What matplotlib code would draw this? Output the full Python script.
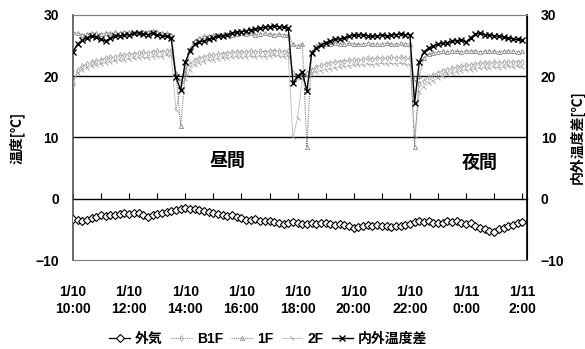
import matplotlib
matplotlib.use("Agg")
import matplotlib.pyplot as plt
from matplotlib.ticker import MultipleLocator

plt.rcParams['font.family'] = ['Liberation Sans', 'Noto Sans CJK JP', 'DejaVu Sans']
plt.rcParams['font.weight'] = 'bold'

# time in hours after 1/10 10:00, 10-minute steps
hours = [i / 6 for i in range(97)]

outdoor = [-3.3, -3.5, -3.6, -3.4, -3.1, -2.9, -2.7, -2.8, -2.6, -2.7, -2.5, -2.4,
           -2.5, -2.3, -2.4, -2.6, -2.9, -2.7, -2.5, -2.4, -2.2, -2.0, -1.8, -1.7,
           -1.5, -1.6, -1.7, -1.8, -2.0, -2.1, -2.3, -2.5, -2.7, -2.8, -2.7, -3.0,
           -3.2, -3.4, -3.5, -3.3, -3.6, -3.7, -3.7, -3.8, -3.9, -4.1, -3.9, -3.8,
           -4.0, -4.2, -4.1, -4.0, -4.1, -4.0, -3.9, -4.1, -4.3, -4.2, -4.3, -4.5,
           -4.7, -4.6, -4.4, -4.3, -4.4, -4.3, -4.4, -4.5, -4.6, -4.4, -4.5, -4.3,
           -4.1, -3.8, -3.6, -3.8, -3.7, -3.9, -4.0, -3.9, -3.7, -3.8, -3.6, -3.9,
           -4.2, -4.0, -4.4, -4.7, -4.9, -5.2, -5.5, -5.0, -4.7, -4.5, -4.3, -4.0,
           -3.8]

b1f = [18.8, 21.0, 21.6, 22.0, 22.3, 22.5, 22.7, 22.9, 23.1, 23.2, 23.4, 23.5,
       23.6, 23.7, 23.8, 23.9, 23.8, 24.0, 24.1, 24.0, 24.2, 24.1, 20.2, 19.3,
       21.0, 22.0, 22.6, 23.0, 23.2, 23.4, 23.5, 23.6, 23.7, 23.8, 23.9, 24.0,
       23.9, 24.0, 24.1, 24.0, 24.1, 24.0, 24.1, 24.2, 24.1, 24.0, 24.1, 20.5,
       19.8, 20.2, 20.6, 21.0, 21.5, 21.8, 22.0, 22.2, 22.3, 22.4, 22.5, 22.6,
       22.7, 22.6, 22.8, 22.9, 22.8, 23.0, 22.9, 23.0, 23.1, 23.0, 23.1, 23.0,
       22.9, 19.5, 18.8, 19.3, 19.8, 20.2, 20.6, 20.9, 21.1, 21.3, 21.5, 21.6,
       21.8, 21.9, 22.0, 22.1, 22.2, 22.1, 22.3, 22.2, 22.3, 22.4, 22.3, 22.4,
       22.3]

f1 = [27.2, 27.0, 26.8, 26.9, 27.1, 27.0, 26.9, 27.1, 27.0, 27.2, 27.1, 27.3,
      27.2, 27.0, 27.1, 27.3, 27.2, 27.4, 27.2, 27.1, 27.0, 26.8, 20.5, 11.8,
      20.5, 24.5, 25.8, 26.3, 26.5, 26.6, 26.7, 26.8, 26.7, 26.9, 26.8, 26.9,
      27.0, 26.9, 27.0, 26.8, 26.9, 27.0, 26.9, 26.8, 26.9, 26.8, 26.7, 25.2,
      25.0, 25.3, 8.5, 24.0, 25.0, 25.2, 25.3, 25.2, 25.4, 25.3, 25.2, 25.4,
      25.3, 25.2, 25.3, 25.4, 25.3, 25.2, 25.3, 25.4, 25.3, 25.2, 25.4, 25.3,
      25.3, 8.5, 20.0, 23.0, 23.6, 23.8, 24.0, 24.1, 24.0, 24.2, 24.1, 24.0,
      24.2, 24.1, 24.2, 24.0, 24.1, 24.2, 24.1, 24.0, 24.1, 24.2, 24.1, 24.0,
      24.1]

f2 = [19.0, 20.5, 21.0, 21.3, 21.6, 21.8, 22.0, 22.2, 22.3, 22.5, 22.6, 22.7,
      22.8, 22.9, 23.0, 23.1, 23.0, 23.2, 23.3, 23.2, 23.4, 23.3, 14.5, 18.0,
      19.5, 21.0, 21.8, 22.2, 22.4, 22.6, 22.7, 22.8, 22.9, 23.0, 23.1, 23.2,
      23.1, 23.2, 23.3, 23.2, 23.3, 23.2, 23.3, 23.4, 23.3, 23.2, 23.3, 10.0,
      13.2, 19.5, 20.0, 20.4, 20.7, 20.9, 21.1, 21.2, 21.4, 21.5, 21.6, 21.7,
      21.8, 21.9, 21.8, 22.0, 21.9, 22.0, 22.1, 22.0, 22.1, 22.0, 22.1, 22.0,
      21.9, 10.2, 17.5, 18.3, 18.9, 19.3, 19.7, 20.0, 20.3, 20.5, 20.7, 20.9,
      21.0, 21.1, 21.2, 21.3, 21.4, 21.3, 21.5, 21.4, 21.5, 21.6, 21.5, 21.6,
      21.5]

diff = [24.0, 25.3, 25.9, 26.3, 26.5, 26.4, 26.0, 25.8, 26.2, 26.5, 26.6, 26.8,
        26.7, 27.0, 27.1, 26.9, 26.8, 27.0, 26.8, 26.6, 26.5, 26.2, 19.8, 17.8,
        22.3, 24.2, 25.2, 25.6, 25.8, 26.0, 26.3, 26.5, 26.6, 26.8, 27.0, 27.2,
        27.3, 27.4, 27.6, 27.7, 27.8, 28.0, 28.1, 28.2, 28.1, 28.0, 27.9, 18.9,
        20.0, 20.7, 17.6, 23.8, 24.6, 25.1, 25.5, 25.8, 26.0, 26.1, 26.3, 26.5,
        26.7, 26.8, 26.7, 26.6, 26.5, 26.6, 26.7, 26.6, 26.7, 26.8, 26.9, 26.8,
        26.8, 15.6, 22.3, 24.0, 24.6, 25.0, 25.2, 25.4, 25.5, 25.7, 25.8, 25.9,
        25.6, 26.3, 26.9, 27.0, 26.8, 26.7, 26.6, 26.5, 26.4, 26.2, 26.1, 26.0,
        25.9]

tick_hours = [0, 2, 4, 6, 8, 10, 12, 14, 16]
tick_labels = ["1/10\n10:00", "1/10\n12:00", "1/10\n14:00", "1/10\n16:00",
               "1/10\n18:00", "1/10\n20:00", "1/10\n22:00", "1/11\n0:00",
               "1/11\n2:00"]
y_ticks = [-10, 0, 10, 20, 30]

fig = plt.figure(figsize=(5.85, 3.49), dpi=100)
ax = fig.add_axes([73 / 585, 1 - 260 / 349, (527 - 73) / 585, (260 - 15) / 349])
ax.set_xlim(0, 16.17)
ax.set_ylim(-10, 30)

for v in (10, 20):
    ax.axhline(v, color='black', lw=1.0, zorder=1)

l_out, = ax.plot(hours, outdoor, color='black', lw=0.9, marker='D', ms=3.6,
                 mfc='white', mec='black', mew=0.8, zorder=5, label='外気')
l_b1f, = ax.plot(hours, b1f, color='#8f8f8f', lw=0.8, ls=(0, (1, 1)), marker='d',
                 ms=3.0, mfc='none', mec='#a6a6a6', mew=0.6, zorder=3, label='B1F')
l_1f, = ax.plot(hours, f1, color='#7a7a7a', lw=0.8, ls=(0, (1, 1)), marker='^',
                ms=3.0, mfc='none', mec='#8c8c8c', mew=0.6, zorder=3, label='1F')
l_2f, = ax.plot(hours, f2, color='#bdbdbd', lw=0.6, ls='-', marker=(2, 0, 45),
                ms=4.0, mec='#a0a0a0', mew=0.7, zorder=2, label='2F')

ax2 = ax.twinx()
ax2.set_ylim(-10, 30)
l_diff, = ax2.plot(hours, diff, color='black', lw=1.0, marker='x', ms=4.2,
                   mew=1.0, zorder=6, label='内外温度差')

for a in (ax, ax2):
    for s in ('top', 'bottom'):
        a.spines[s].set_color('#808080')
        a.spines[s].set_linestyle((0, (2, 1)))
        a.spines[s].set_linewidth(0.8)
ax.spines['left'].set_color('#505050')
ax.spines['left'].set_linewidth(1.2)
ax2.spines['right'].set_color('black')
ax2.spines['right'].set_linewidth(1.2)
ax2.spines['left'].set_visible(False)

ylabels_txt = [str(v) if v >= 0 else '−10' for v in y_ticks]
ax.set_yticks(y_ticks)
ax.set_yticklabels(ylabels_txt, fontsize=10, fontweight='bold')
ax2.set_yticks(y_ticks)
ax2.set_yticklabels(ylabels_txt, fontsize=10, fontweight='bold')
ax.tick_params(axis='y', length=0, pad=10)
ax2.tick_params(axis='y', length=0, pad=10)

ax.set_xticks(tick_hours)
ax.set_xticklabels(tick_labels, fontsize=10, fontweight='bold', linespacing=1.3)
ax.tick_params(axis='x', length=0, pad=18)

sec = ax.secondary_xaxis(0.25)
sec.xaxis.set_major_locator(MultipleLocator(1))
sec.tick_params(axis='x', direction='in', length=4, width=0.8, labelbottom=False)
sec.spines['bottom'].set_linewidth(1.0)
sec.spines['bottom'].set_color('black')

ax.set_ylabel('温度[℃]', fontsize=10, fontweight='bold',
              family=['Noto Sans CJK JP', 'DejaVu Sans'], labelpad=8)
ax2.set_ylabel('内外温度差[℃]', fontsize=10, fontweight='bold',
               family=['Noto Sans CJK JP', 'DejaVu Sans'], labelpad=3, rotation=90)

ax.text(5.5, 6.2, '昼間', fontsize=13, fontweight='bold', ha='center', va='center',
        family=['Noto Sans CJK JP'])
ax.text(14.5, 6.0, '夜間', fontsize=13, fontweight='bold', ha='center', va='center',
        family=['Noto Sans CJK JP'])

fig.legend(handles=[l_out, l_b1f, l_1f, l_2f, l_diff], loc='center',
           bbox_to_anchor=(268 / 585, 1 - 339 / 349), ncol=5, frameon=False,
           handlelength=1.5, handletextpad=0.35, columnspacing=0.6,
           borderpad=0.1,
           prop=dict(family=['Liberation Sans', 'Noto Sans CJK JP'],
                     weight='bold', size=10))

fig.savefig('out.png', dpi=100)
